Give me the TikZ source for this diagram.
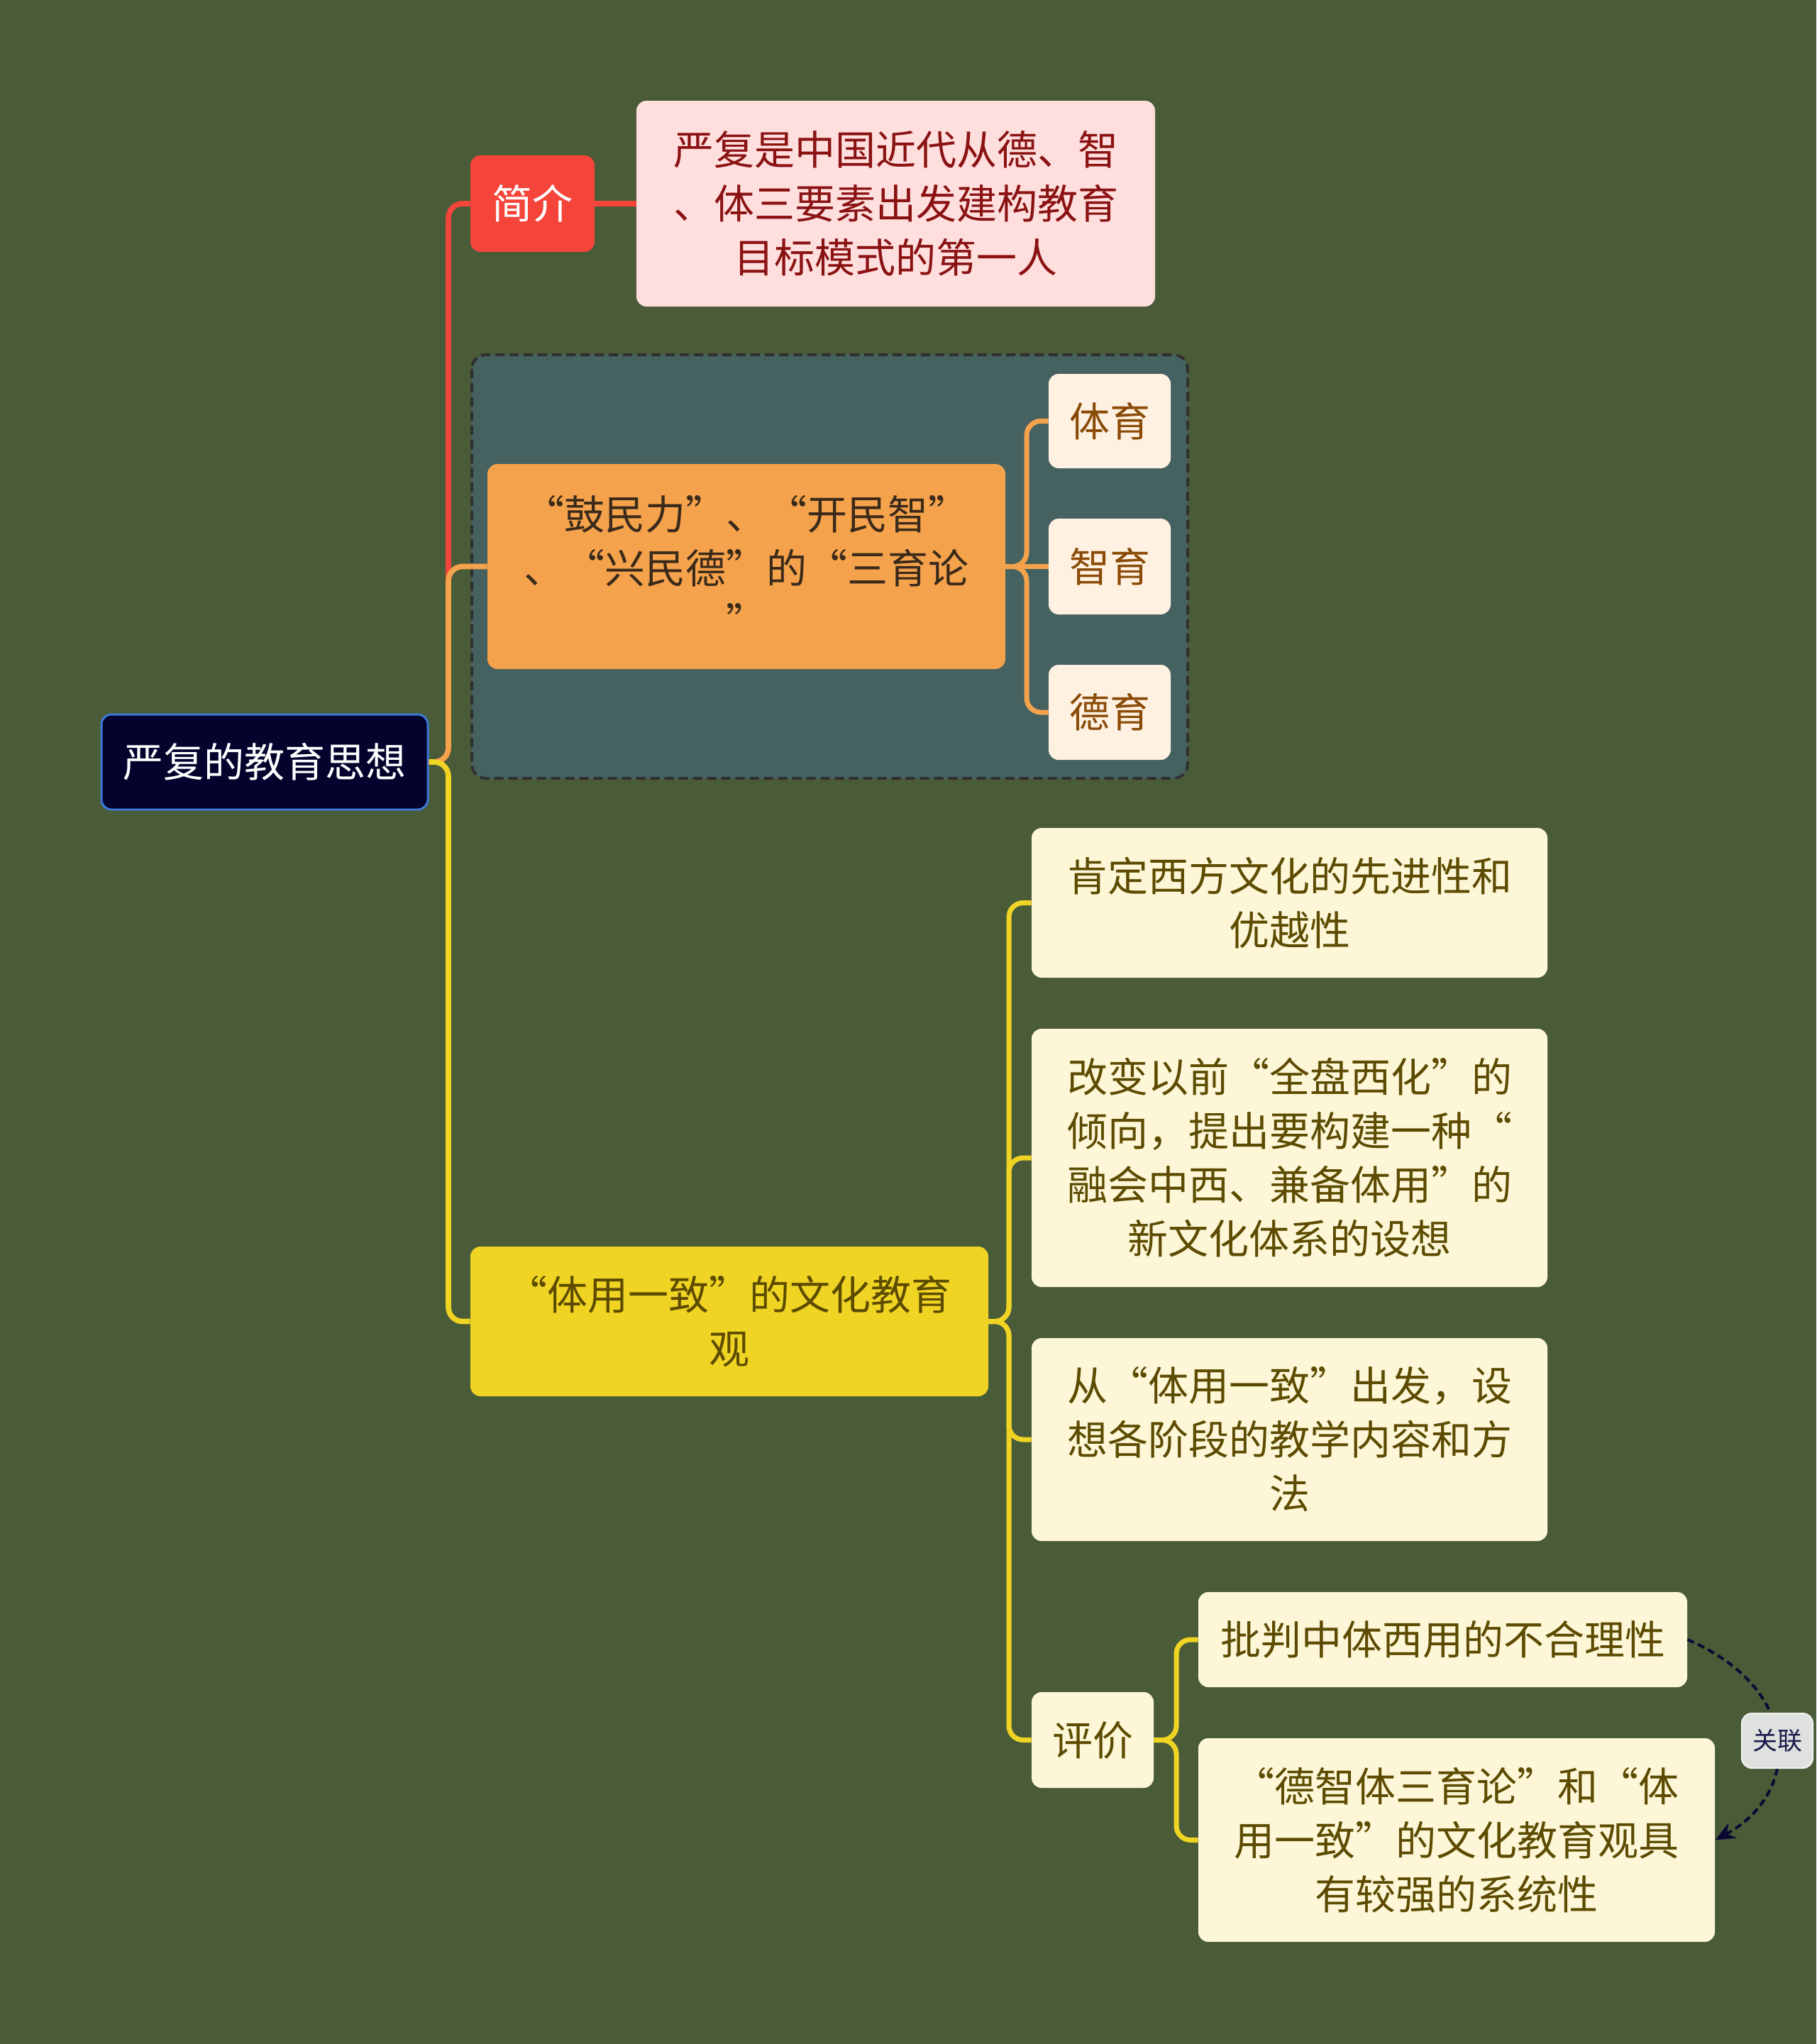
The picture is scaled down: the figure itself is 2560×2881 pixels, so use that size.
\documentclass[tikz,border=0pt]{standalone}
\usepackage{fontspec}
\setmainfont{Noto Sans CJK SC}
\usetikzlibrary{arrows.meta}
\definecolor{bg}{HTML}{4A5B38}
\definecolor{rootfill}{HTML}{03032E}
\definecolor{rootborder}{HTML}{3C78D8}
\definecolor{redc}{HTML}{F5443A}
\definecolor{pinkfill}{HTML}{FFDEDE}
\definecolor{pinktext}{HTML}{8A1212}
\definecolor{groupfill}{HTML}{456160}
\definecolor{groupborder}{HTML}{303030}
\definecolor{orangec}{HTML}{F5A24C}
\definecolor{orangetext}{HTML}{3A2A1A}
\definecolor{peachfill}{HTML}{FEF1E1}
\definecolor{peachtext}{HTML}{8A4B08}
\definecolor{yellowc}{HTML}{F0D424}
\definecolor{yellowtext}{HTML}{5C4B00}
\definecolor{creamfill}{HTML}{FDF7D8}
\definecolor{reltext}{HTML}{1A1A4A}
\definecolor{relfill}{HTML}{DEE1DD}
\definecolor{relline}{HTML}{0A0A35}
\begin{document}
\begin{tikzpicture}[x=0.5pt,y=-0.5pt,
  box/.style={rounded corners=7pt, inner sep=0pt, align=center,
    font=\fontsize{28.5}{38}\selectfont},
  rootbox/.style={box, fill=rootfill, draw=rootborder, line width=1.5pt, text=white},
  redbox/.style={box, fill=redc, text=white},
  pinkbox/.style={box, fill=pinkfill, text=pinktext},
  orangebox/.style={box, fill=orangec, text=orangetext},
  peachbox/.style={box, fill=peachfill, text=peachtext},
  yellowbox/.style={box, fill=yellowc, text=yellowtext},
  creambox/.style={box, fill=creamfill, text=yellowtext},
  link/.style={line width=3.8pt, rounded corners=10pt},
  sublink/.style={line width=3.5pt, rounded corners=10pt},
  redline/.style={link, draw=redc},
  orangeline/.style={link, draw=orangec},
  yellowline/.style={link, draw=yellowc},
  orangesub/.style={sublink, draw=orangec},
  yellowsub/.style={sublink, draw=yellowc},
  relarrow/.style={draw=relline, line width=2pt, dash pattern=on 5pt off 3pt,
    -{Stealth[length=14pt,width=12pt]}},
  rellabel/.style={rounded corners=7pt, fill=relfill, draw=white!90!gray, line width=1pt,
    text=reltext, inner sep=0pt, font=\fontsize{17.5}{20}\selectfont}
]
\fill[bg] (0,0) rectangle (2560,2881);
\useasboundingbox (0,0) rectangle (2560,2881);

% group box
\draw[fill=groupfill, draw=groupborder, line width=2pt, dash pattern=on 6.5pt off 3.5pt, rounded corners=10pt]
  (665,500) rectangle (1674,1097);

% nodes
\node[rootbox, minimum width=230pt, minimum height=67pt] (root) at (373,1074) {严复的教育思想};
\node[redbox, minimum width=87.5pt, minimum height=68pt] (jj) at (750.5,287) {简介};
\node[pinkbox, minimum width=365.5pt, minimum height=145pt] (intro) at (1262.5,287)
  {严复是中国近代从德、智\\、体三要素出发建构教育\\目标模式的第一人};
\node[orangebox, minimum width=365pt, minimum height=144.5pt] (sy) at (1052,798.5)
  {“鼓民力”、“开民智”\\、“兴民德”的“三育论\\”};
\node[peachbox, minimum width=86pt, minimum height=66.5pt] (ty) at (1564,593.5) {体育};
\node[peachbox, minimum width=86pt, minimum height=67.5pt] (zy) at (1564,798.5) {智育};
\node[peachbox, minimum width=86pt, minimum height=67pt] (dy) at (1564,1004) {德育};
\node[yellowbox, minimum width=365pt, minimum height=105.5pt] (tyyz) at (1028,1862.5)
  {“体用一致”的文化教育\\观};
\node[creambox, minimum width=363.5pt, minimum height=105.5pt] (kd) at (1817.5,1272.5)
  {肯定西方文化的先进性和\\优越性};
\node[creambox, minimum width=363.5pt, minimum height=182pt] (gb) at (1817.5,1632)
  {改变以前“全盘西化”的\\倾向，提出要构建一种“\\融会中西、兼备体用”的\\新文化体系的设想};
\node[creambox, minimum width=363.5pt, minimum height=143pt] (cong) at (1817.5,2029)
  {从“体用一致”出发，设\\想各阶段的教学内容和方\\法};
\node[creambox, minimum width=86pt, minimum height=67.5pt] (pj) at (1540,2452.5) {评价};
\node[creambox, minimum width=344.5pt, minimum height=67pt] (pp) at (2033.5,2311) {批判中体西用的不合理性};
\node[creambox, minimum width=364pt, minimum height=143.5pt] (dz) at (2053,2593.5)
  {“德智体三育论”和“体\\用一致”的文化教育观具\\有较强的系统性};

% main branches
\draw[redline] (root.east) -- (632,1074) -- (632,287) -- (jj.west);
\draw[redline] (jj.east) -- (intro.west);
\draw[orangeline] (root.east) -- (632,1074) -- (632,798.5) -- (sy.west);
\draw[yellowline] (root.east) -- (632,1074) -- (632,1862.5) -- (tyyz.west);

% orange children
\draw[orangesub] (sy.east) -- (1447,798.5) -- (1447,593.5) -- (ty.west);
\draw[orangesub] (sy.east) -- (zy.west);
\draw[orangesub] (sy.east) -- (1447,798.5) -- (1447,1004) -- (dy.west);

% yellow children
\draw[yellowsub] (tyyz.east) -- (1422,1862.5) -- (1422,1272.5) -- (kd.west);
\draw[yellowsub] (tyyz.east) -- (1422,1862.5) -- (1422,1632) -- (gb.west);
\draw[yellowsub] (tyyz.east) -- (1422,1862.5) -- (1422,2029) -- (cong.west);
\draw[yellowsub] (tyyz.east) -- (1422,1862.5) -- (1422,2452.5) -- (pj.west);

% pingjia children
\draw[yellowsub] (pj.east) -- (1658,2452.5) -- (1658,2311) -- (pp.west);
\draw[yellowsub] (pj.east) -- (1658,2452.5) -- (1658,2593.5) -- (dz.west);

% relation
\draw[relarrow] (pp.east) .. controls (2540,2380) and (2540,2527) .. (dz.east);
\node[rellabel, minimum width=50pt, minimum height=38.5pt] (rel) at (2505,2453.5) {关联};
\end{tikzpicture}
\end{document}
